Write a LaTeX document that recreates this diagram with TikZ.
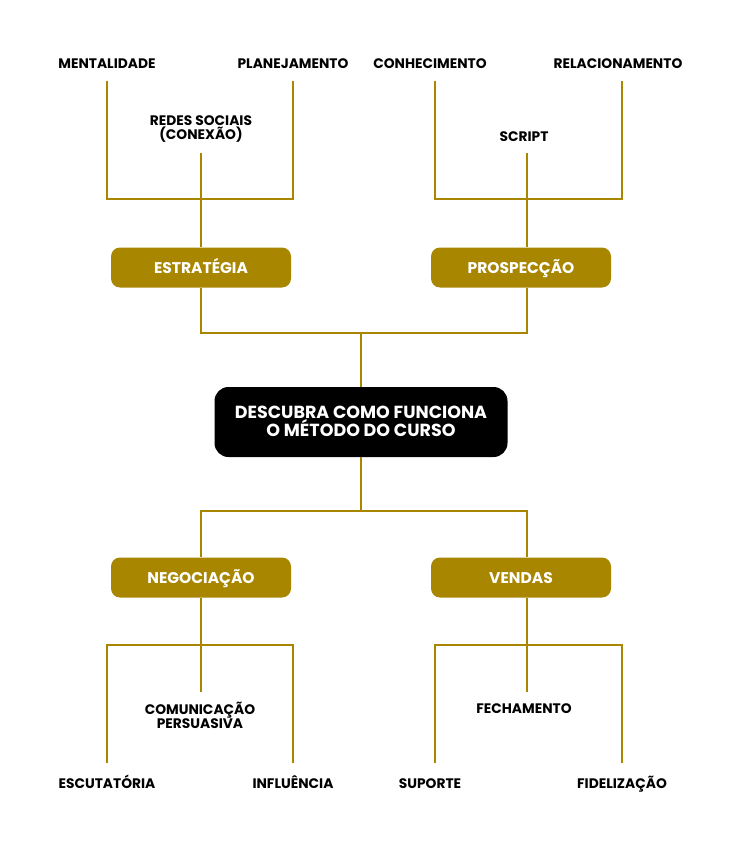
\documentclass[tikz,border=0pt]{standalone}
\usepackage{fontspec}
\setmainfont{Poppins}
\definecolor{gold}{RGB}{168,134,0}
\tikzset{
  lbl/.style={font=\bfseries\fontsize{13.8}{14}\selectfont, text=black, inner sep=0pt, text height=9.5pt, text depth=0pt},
  lbltwo/.style={font=\bfseries\fontsize{13.8}{14.5}\selectfont, text=black, align=center, inner sep=0pt},
  catbox/.style={fill=gold, rounded corners=9pt, minimum width=180pt, minimum height=40pt, text=white, font=\bfseries\fontsize{15.5}{16}\selectfont, inner sep=0pt, text height=11pt, text depth=0pt},
  mainbox/.style={fill=black, rounded corners=14pt, minimum width=293pt, minimum height=70pt},
  maintxt/.style={text=white, font=\bfseries\fontsize{17.5}{18.5}\selectfont, align=center, inner sep=0pt},
  link/.style={draw=gold, line width=2.8pt}
}
\begin{document}
\begin{tikzpicture}[x=1pt,y=-1pt]
\useasboundingbox (0,0) rectangle (737,850);
% nodes
\node[mainbox] (main) at (361,422) {};
\node[maintxt] (maintext) at (361,421.5) {DESCUBRA COMO FUNCIONA\\O MÉTODO DO CURSO};
\node[catbox] (est) at (201,267.5) {ESTRATÉGIA};
\node[catbox] (pro) at (521,267.5) {PROSPECÇÃO};
\node[catbox] (neg) at (201,577.5) {NEGOCIAÇÃO};
\node[catbox] (ven) at (521,577.5) {VENDAS};
% labels top
\node[lbl] (ment) at (107,63.5) {MENTALIDADE};
\node[lbl] (plan) at (293,63.5) {PLANEJAMENTO};
\node[lbltwo] (redes) at (201,129) {REDES SOCIAIS\\(CONEXÃO)};
\node[lbl] (conh) at (430,63.5) {CONHECIMENTO};
\node[lbl] (rel) at (618,63.5) {RELACIONAMENTO};
\node[lbl] (scr) at (524,136.5) {SCRIPT};
% labels bottom
\node[lbltwo] (com) at (200,715.5) {COMUNICAÇÃO\\PERSUASIVA};
\node[lbl] (esc) at (107,783.5) {ESCUTATÓRIA};
\node[lbl] (inf) at (293,783.5) {INFLUÊNCIA};
\node[lbl] (fec) at (524,708.5) {FECHAMENTO};
\node[lbl] (sup) at (430,783.5) {SUPORTE};
\node[lbl] (fid) at (622,783.5) {FIDELIZAÇÃO};
% coordinates
\coordinate (mentE) at (107,81);
\coordinate (planE) at (293,81);
\coordinate (redesE) at (201,153);
\coordinate (conhE) at (435,81);
\coordinate (relE) at (622,81);
\coordinate (scrE) at (527,153);
\coordinate (comE) at (201,692);
\coordinate (escE) at (107,763);
\coordinate (infE) at (293,763);
\coordinate (fecE) at (527,692);
\coordinate (supE) at (435,763);
\coordinate (fidE) at (622,763);
% connectors top
\draw[link] (mentE) |- (201,199) -| (planE);
\draw[link] (redesE) -- (est.north -| redesE);
\draw[link] (conhE) |- (527,199) -| (relE);
\draw[link] (scrE) -- (pro.north -| scrE);
% est/pro to main
\draw[link] (est.south) |- (361,333) -| ([xshift=6pt]pro.south);
\draw[link] (361,333) -- (main.north);
% main to neg/ven
\draw[link] (main.south) -- (361,511);
\draw[link] (neg.north) |- (361,511) -| ([xshift=6pt]ven.north);
% bottom trees
\draw[link] (neg.south) -- (comE);
\draw[link] (escE) |- (201,645) -| (infE);
\draw[link] ([xshift=6pt]ven.south) -- (fecE);
\draw[link] (supE) |- (527,645) -| (fidE);
\end{tikzpicture}
\end{document}
